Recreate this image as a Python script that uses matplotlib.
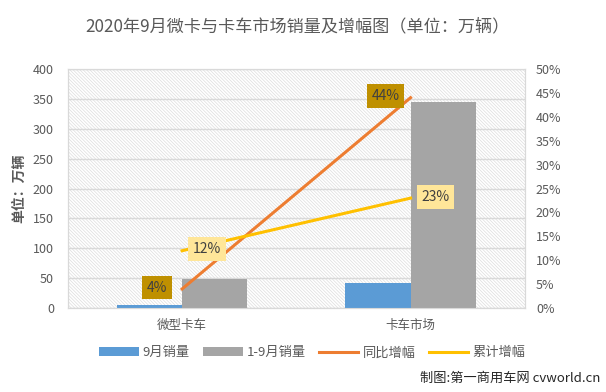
import matplotlib.pyplot as plt
import matplotlib.ticker as mticker
import numpy as np

plt.rcParams['font.family'] = ['Noto Sans CJK SC', 'DejaVu Sans']
plt.rcParams['hatch.color'] = '#DDDDDD'
plt.rcParams['hatch.linewidth'] = 0.5

categorias = ["微型卡车", "卡车市场"]
ventas_sep = [5, 42]
ventas_ene_sep = [49, 345]
yoy = [0.04, 0.44]
acumulado = [0.12, 0.23]
etiquetas_yoy = ["4%", "44%"]
etiquetas_acum = ["12%", "23%"]

GRIS_TXT = "#595959"

fig = plt.figure(figsize=(6.06, 3.92), dpi=100)
ax = fig.add_axes([0.112, 0.214, 0.754, 0.61])
ax2 = ax.twinx()

x = np.arange(len(categorias))
w = 0.285

ax.patch.set_facecolor("white")
ax.patch.set_hatch("\\" * 10)
ax.patch.set_edgecolor("#DDDDDD")

ax.bar(x - w / 2, ventas_sep, w, color="#5B9BD5", label="9月销量", zorder=3)
ax.bar(x + w / 2, ventas_ene_sep, w, color="#A5A5A5", label="1-9月销量", zorder=3)
ax.set_ylim(0, 400)
ax.set_xlim(-0.5, 1.5)
ax.set_yticks(range(0, 401, 50))
ax.yaxis.grid(True, color="#D9D9D9", lw=1, zorder=0)
ax.set_axisbelow(True)
ax.set_xticks(x)
ax.set_xticklabels(categorias, fontsize=10, color=GRIS_TXT)
ax.tick_params(axis="both", length=0, labelcolor=GRIS_TXT, labelsize=9)
ax.tick_params(axis="y", pad=10)
ax.tick_params(axis="x", pad=8)
ax.set_ylabel("单位：万辆", fontsize=10, color=GRIS_TXT, fontweight="bold", labelpad=5)

l1, = ax2.plot(x, yoy, color="#ED7D31", lw=2.2, label="同比增幅", zorder=4)
l2, = ax2.plot(x, acumulado, color="#FFC000", lw=2.2, label="累计增幅", zorder=4)
ax2.set_ylim(0, 0.5)
ax2.set_yticks(np.arange(0, 0.501, 0.05))
ax2.yaxis.set_major_formatter(mticker.FuncFormatter(lambda v, p: f"{v*100:.0f}%"))
ax2.tick_params(axis="y", length=0, labelcolor=GRIS_TXT, labelsize=9, pad=8)

for s in list(ax.spines.values()) + list(ax2.spines.values()):
    s.set_color("#D9D9D9")

# Etiquetas de datos
for xi, v, t in zip(x, yoy, etiquetas_yoy):
    ax2.annotate(t, (xi, v), xytext=(-18, 1), textcoords="offset points",
                 ha="center", va="center", fontsize=10, color="#404040", zorder=6,
                 bbox=dict(boxstyle="square,pad=0.35", fc="#BF9000", ec="none"))
for xi, v, t in zip(x, acumulado, etiquetas_acum):
    ax2.annotate(t, (xi, v), xytext=(18, 1), textcoords="offset points",
                 ha="center", va="center", fontsize=10, color="#404040", zorder=6,
                 bbox=dict(boxstyle="square,pad=0.35", fc="#FFE699", ec="none"))

fig.text(0.49, 0.932, "2020年9月微卡与卡车市场销量及增幅图（单位：万辆）",
         ha="center", va="center", fontsize=12.3, color=GRIS_TXT)

h1, lab1 = ax.get_legend_handles_labels()
fig.legend(h1 + [l1, l2], lab1 + ["同比增幅", "累计增幅"], loc="center",
           bbox_to_anchor=(0.515, 0.1), ncol=4, frameon=False, fontsize=9.5,
           handlelength=3, handleheight=0.6, columnspacing=1.0, handletextpad=0.3,
           labelcolor=GRIS_TXT)

fig.text(0.99, 0.035, "制图:第一商用车网 cvworld.cn", ha="right", va="center",
         fontsize=9.5, color="#262626")

fig.savefig("out.png", dpi=100)
